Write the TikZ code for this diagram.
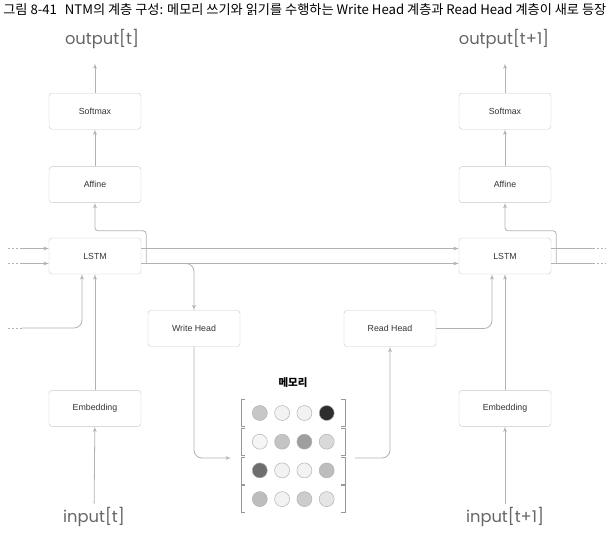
\documentclass[tikz,border=0pt]{standalone}
\usepackage{graphicx}
\usepackage{fontspec}
\setmainfont{Liberation Sans}
\newfontfamily\krfont{Noto Sans CJK KR}
\newfontfamily\iofont{Poppins}
\usepackage{tikz}
\usetikzlibrary{arrows,positioning}

\definecolor{wireline}{HTML}{B2B2B2}
\definecolor{boxline}{HTML}{C6C6C6}

\begin{document}
\begin{tikzpicture}[x=1pt,y=-1pt,->,>=latex',semithick]
\tikzstyle{layer}=[draw=boxline,thin,rounded corners=3pt,minimum width=92pt,minimum height=36pt,text=black!80,font=\fontsize{8.8}{10}\selectfont]
\tikzstyle{io}=[text=black!60,font=\iofont\fontsize{16.3}{18}\selectfont]
\tikzstyle{wire}=[draw=wireline,line width=0.8pt]
\tikzstyle{stub}=[wire,-,dash pattern=on 2pt off 2pt]
\tikzstyle{cell}=[draw=black!30,line width=0.5pt]
\tikzstyle{bracket}=[draw=black!40,line width=0.6pt,-]
\useasboundingbox (0,0) rectangle (609,535);

\node[anchor=west,inner sep=0pt,font=\krfont] (title) at (3,10)
  {\resizebox{603pt}{!}{그림 8-41\hspace{0.6em}NTM의 계층 구성: 메모리 쓰기와 읽기를 수행하는 Write Head 계층과 Read Head 계층이 새로 등장}};

% time step t
\node[layer] (lstm1) at (95,256) {LSTM};
\node[layer,above=35pt of lstm1] (affine1) {Affine};
\node[layer,above=37pt of affine1] (softmax1) {Softmax};
\node[layer,below=116pt of lstm1] (embed1) {Embedding};
\node[io] (out1) at (102,39) {output[t]};
\node[io] (in1) at (94,517) {input[t]};

% time step t+1
\node[layer] (lstm2) at (505,256) {LSTM};
\node[layer,above=35pt of lstm2] (affine2) {Affine};
\node[layer,above=37pt of affine2] (softmax2) {Softmax};
\node[layer,below=116pt of lstm2] (embed2) {Embedding};
\node[io] (out2) at (504,39) {output[t+1]};
\node[io] (in2) at (505,517) {input[t+1]};

% heads
\node[layer] (write) at (194,328.5) {Write Head};
\node[layer] (read) at (390,328.5) {Read Head};

% memory
\node[font=\krfont\bfseries\fontsize{10.5}{12}\selectfont] (mem) at (293,383) {메모리};
\foreach \row [count=\i] in {{22,5,5,82},{4,23,38,15},{57,5,5,26},{26,5,20,10}} {
  \draw[bracket] (245,370.8+28.7*\i) -- (241,370.8+28.7*\i) -- (241,397.8+28.7*\i) -- (245,397.8+28.7*\i);
  \draw[bracket] (341,370.8+28.7*\i) -- (345,370.8+28.7*\i) -- (345,397.8+28.7*\i) -- (341,397.8+28.7*\i);
  \foreach \g [count=\j] in \row
    \draw[cell,fill=black!\g] (237.5+22.3*\j,384.3+28.7*\i) circle (7.5pt);
}

\coordinate (h1) at ([xshift=5pt,yshift=-7.5pt]lstm1.east);
\coordinate (h2) at ([xshift=5pt,yshift=-7.5pt]lstm2.east);
\coordinate (memin) at (231,458);
\coordinate (memout) at (355,458);
\coordinate (rprev) at (22,328);
\coordinate (cprev) at (22,248.5);
\coordinate (hprev) at (22,263.5);
\coordinate (cnext) at (593,248.5);
\coordinate (hnext) at (593,263.5);

% step t
\draw[wire] (in1) -- (embed1);
\draw[wire] (embed1) -- (lstm1);
\draw[wire] (affine1) -- (softmax1);
\draw[wire,shorten >=11pt] (softmax1) -- (softmax1.north |- out1.south);
\draw[wire,rounded corners=3pt] (h1) |- ([yshift=-28pt]affine1.south) -- (affine1);
\draw[stub] ([xshift=-14pt]cprev) -- (cprev);
\draw[stub] ([xshift=-14pt]hprev) -- (hprev);
\draw[stub] ([xshift=-14pt]rprev) -- (rprev);
\draw[wire] (cprev) -- ([yshift=7.5pt]lstm1.west);
\draw[wire] (hprev) -- ([yshift=-7.5pt]lstm1.west);
\draw[wire,rounded corners=8pt] (rprev) -| ([xshift=-13pt]lstm1.south);

% t -> t+1
\draw[wire] ([yshift=7.5pt]lstm1.east) -- ([yshift=7.5pt]lstm2.west);
\draw[wire] ([yshift=-7.5pt]lstm1.east) -- ([yshift=-7.5pt]lstm2.west);

% write and read
\draw[wire,rounded corners=8pt] (h1) -| (write);
\draw[wire,rounded corners=8pt] (write) |- (memin);
\draw[wire,rounded corners=8pt] (memout) -| (read);
\draw[wire,rounded corners=8pt] (read) -| ([xshift=-13pt]lstm2.south);

% step t+1
\draw[wire] (in2) -- (embed2);
\draw[wire] (embed2) -- (lstm2);
\draw[wire] (affine2) -- (softmax2);
\draw[wire,shorten >=11pt] (softmax2) -- (softmax2.north |- out2.south);
\draw[wire,rounded corners=3pt] (h2) |- ([yshift=-28pt]affine2.south) -- (affine2);
\draw[wire,-] ([yshift=7.5pt]lstm2.east) -- (cnext);
\draw[wire,-] ([yshift=-7.5pt]lstm2.east) -- (hnext);
\draw[stub] (cnext) -- ([xshift=13pt]cnext);
\draw[stub] (hnext) -- ([xshift=13pt]hnext);
\end{tikzpicture}
\end{document}
